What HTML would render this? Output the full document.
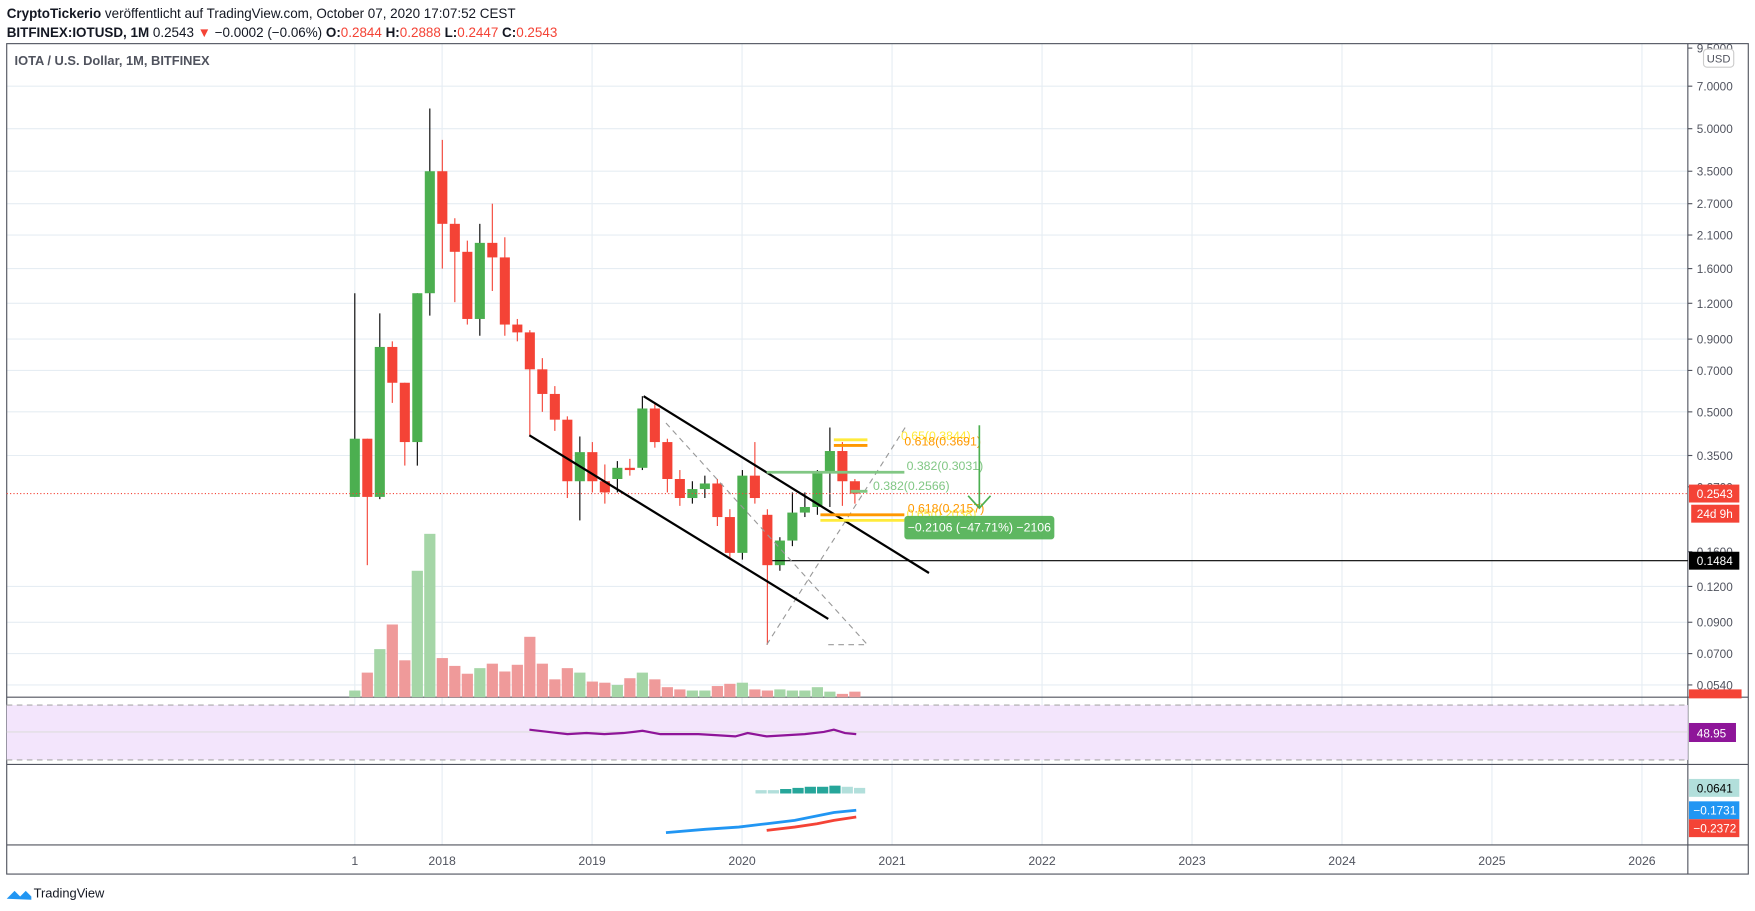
<!DOCTYPE html>
<html><head><meta charset="utf-8"><style>
html,body{margin:0;padding:0;background:#fff;width:1755px;height:911px;overflow:hidden}
svg{display:block;font-family:"Liberation Sans",sans-serif}
</style></head><body>
<svg id="s" width="1755" height="911" viewBox="0 0 1568 814" preserveAspectRatio="none" xmlns="http://www.w3.org/2000/svg">
<rect width="1568" height="814" fill="#fff"/>
<g id="grid" stroke="#e6edf3" stroke-width="1"></g>
<rect x="6" y="39" width="1556" height="742" fill="none" stroke="#50535e" stroke-width="1"/>
<line x1="1508" y1="39" x2="1508" y2="781" stroke="#50535e"/>
<line x1="6" y1="623" x2="1562" y2="623" stroke="#50535e"/>
<line x1="6" y1="683" x2="1562" y2="683" stroke="#50535e"/>
<line x1="6" y1="755" x2="1562" y2="755" stroke="#50535e"/>
<!-- RSI -->
<rect x="6" y="630" width="1502" height="49" fill="#f3e5fc"/>
<line x1="6" y1="630" x2="1508" y2="630" stroke="#aaa" stroke-dasharray="5,4"/>
<line x1="6" y1="679" x2="1508" y2="679" stroke="#aaa" stroke-dasharray="5,4"/>
<line x1="6" y1="654" x2="1508" y2="654" stroke="#ddd"/>
<polyline points="473,652 490,654 507,656 524,655 540,656 557,655 574,653 590,656 607,656 624,656 641,657 657,658 668,655 685,658 702,657 719,656 736,654 745,652 755,655 765,656" fill="none" stroke="#8e1599" stroke-width="2"/>
<g id="vol"></g>
<g id="cand"></g>
<!-- MACD -->
<g id="hist"></g>
<polyline points="595,744 630,741 660,739 685,736 710,733 730,729 745,726 765,724" fill="none" stroke="#2196f3" stroke-width="2.5"/>
<polyline points="685,742 710,739 730,736 745,733 765,730" fill="none" stroke="#f44336" stroke-width="2.5"/>
<!-- drawings -->
<line x1="6" y1="441" x2="1508" y2="441" stroke="#f44336" stroke-dasharray="1,2"/>
<line x1="690" y1="501" x2="1508" y2="501" stroke="#000"/>
<line x1="595" y1="378" x2="775" y2="576" stroke="#999" stroke-dasharray="5,4"/>
<line x1="685" y1="576" x2="810" y2="380" stroke="#999" stroke-dasharray="5,4"/>
<line x1="740" y1="576" x2="775" y2="576" stroke="#999" stroke-dasharray="5,4"/>
<line x1="575" y1="354" x2="830" y2="512" stroke="#000" stroke-width="2"/>
<line x1="473" y1="389" x2="740" y2="553" stroke="#000" stroke-width="2"/>
<line x1="745" y1="393" x2="775" y2="393" stroke="#ffeb3b" stroke-width="2.5"/>
<line x1="745" y1="398" x2="775" y2="398" stroke="#ff9800" stroke-width="2.5"/>
<line x1="685" y1="422" x2="808" y2="422" stroke="#81c784" stroke-width="2.5"/>
<line x1="760" y1="439" x2="775" y2="439" stroke="#81c784" stroke-width="2.5"/>
<line x1="733" y1="460" x2="808" y2="460" stroke="#ff9800" stroke-width="2.5"/>
<line x1="733" y1="465" x2="808" y2="465" stroke="#ffeb3b" stroke-width="2.5"/>
<g font-size="11">
<text x="805" y="393" fill="#ffeb3b">0.65(0.3844)</text>
<text x="808" y="398" fill="#ff9800">0.618(0.3691)</text>
<text x="810" y="420" fill="#81c784">0.382(0.3031)</text>
<text x="780" y="438" fill="#81c784">0.382(0.2566)</text>
<text x="810" y="463" fill="#ffeb3b">0.65(0.2038)</text>
<text x="811" y="458" fill="#ff9800">0.618(0.2157)</text>
</g>
<line x1="875" y1="380" x2="875" y2="454" stroke="#4caf50" stroke-width="1.5"/>
<polyline points="865,443 875,454 885,443" fill="none" stroke="#4caf50" stroke-width="1.5"/>
<rect x="808" y="461" width="134" height="21" rx="3" fill="#4caf50" opacity="0.9"/>
<text x="875" y="475" font-size="11" fill="#fff" text-anchor="middle">−0.2106 (−47.71%) −2106</text>
<!-- axis labels -->
<g id="pl" font-size="10.5" fill="#50535e"></g>
<rect x="1522" y="44" width="27" height="16" rx="3" fill="#fff" stroke="#ccc"/>
<text x="1535.5" y="56" font-size="10" fill="#50535e" text-anchor="middle">USD</text>
<rect x="1509" y="433" width="45" height="16" fill="#f44336"/><text x="1516" y="445" font-size="10.5" fill="#fff">0.2543</text>
<rect x="1511" y="451" width="43" height="16" fill="#f44336"/><text x="1516" y="463" font-size="10.5" fill="#fff">24d 9h</text>
<rect x="1509" y="493" width="45" height="16" fill="#000"/><text x="1516" y="505" font-size="10.5" fill="#fff">0.1484</text>
<rect x="1509" y="616" width="47" height="8" fill="#f44336"/>
<rect x="1509" y="646" width="42" height="17" fill="#8e1599"/><text x="1516" y="659" font-size="10.5" fill="#fff">48.95</text>
<rect x="1509" y="696" width="45" height="16" fill="#b2dfdb"/><text x="1516" y="708" font-size="10.5" fill="#000">0.0641</text>
<rect x="1509" y="716" width="45" height="16" fill="#2196f3"/><text x="1513" y="728" font-size="10.5" fill="#fff">−0.1731</text>
<rect x="1509" y="732" width="45" height="16" fill="#f44336"/><text x="1513" y="744" font-size="10.5" fill="#fff">−0.2372</text>
<g font-size="11" fill="#50535e" text-anchor="middle">
<text x="317" y="773">1</text><text x="395" y="773">2018</text><text x="529" y="773">2019</text><text x="663" y="773">2020</text><text x="797" y="773">2021</text><text x="931" y="773">2022</text><text x="1065" y="773">2023</text><text x="1199" y="773">2024</text><text x="1333" y="773">2025</text><text x="1467" y="773">2026</text>
</g>
<text x="6" y="16" font-size="12" fill="#131722"><tspan font-weight="bold">CryptoTickerio</tspan> veröffentlicht auf TradingView.com, October 07, 2020 17:07:52 CEST</text>
<text x="6" y="33" font-size="12" fill="#131722"><tspan font-weight="bold">BITFINEX:IOTUSD, 1M</tspan> 0.2543 <tspan fill="#f44336">▼</tspan> −0.0002 (−0.06%) <tspan font-weight="bold">O:</tspan><tspan fill="#f44336">0.2844</tspan> <tspan font-weight="bold">H:</tspan><tspan fill="#f44336">0.2888</tspan> <tspan font-weight="bold">L:</tspan><tspan fill="#f44336">0.2447</tspan> <tspan font-weight="bold">C:</tspan><tspan fill="#f44336">0.2543</tspan></text>
<text x="13" y="58" font-size="11.5" font-weight="bold" fill="#50535e">IOTA / U.S. Dollar, 1M, BITFINEX</text>
<path d="M6,803 l7,-7 l5,5 l5,-5 l5,5 v3 z" fill="#2196f3"/>
<text x="30" y="802" font-size="11.5" fill="#131722">TradingView</text>
</svg>
<script>
var NS="http://www.w3.org/2000/svg";
function el(p,t,a){var e=document.createElementNS(NS,t);for(var k in a)e.setAttribute(k,a[k]);document.getElementById(p).appendChild(e);return e;}
var ys=[[9.5,43],[7,77],[5,115],[3.5,153],[2.7,182],[2.1,210],[1.6,240],[1.2,271],[0.9,303],[0.7,331],[0.5,368],[0.35,407],[0.27,435],[0.16,493],[0.12,524],[0.09,556],[0.07,584],[0.054,612]];
ys.forEach(function(v){if(v[0]!=0.27&&v[0]!=0.16&&v[0]!=9.5)el("grid","line",{x1:6,x2:1508,y1:v[1],y2:v[1]});
 el("grid","line",{x1:1508,x2:1512,y1:v[1],y2:v[1],stroke:"#50535e"});
 var t=el("pl","text",{x:1516,y:v[1]+4});t.textContent=v[0].toFixed(4);});
[317,395,529,663,797,931,1065,1199,1333,1467].forEach(function(x){el("grid","line",{x1:x,x2:x,y1:39,y2:755});});
// candles: [o,c,h,l] in y
var C=[[444,392,262,444],[392,444,392,505],[444,310,280,446],[310,342,305,360],[342,395,342,416],[395,262,262,416],[262,153,97,282],[153,200,125,240],[200,225,195,270],[225,285,215,290],[285,217,200,300],[217,230,182,260],[230,290,212,300],[290,297,285,305],[297,330,295,390],[330,352,320,368],[352,375,345,385],[375,430,372,445],[430,404,390,465],[404,430,395,440],[430,440,415,450],[428,418,412,440],[418,420,410,425],[418,365,354,420],[365,395,360,400],[395,428,392,440],[428,445,420,452],[445,437,430,450],[437,432,425,445],[432,462,428,470],[462,494,455,500],[494,425,420,500],[425,445,395,450],[460,505,455,576],[505,483,480,510],[483,458,440,488],[458,453,440,462],[453,423,420,460],[423,403,382,453],[403,430,395,452],[430,441,428,450]];
var V=[617,601,580,558,590,510,477,588,595,602,597,593,600,594,569,593,607,597,601,609,610,612,606,601,607,614,616,617,617,613,611,610,616,617,616,617,617,614,618,620];
C.forEach(function(c,i){var x=317+11.17*i,up=c[1]<c[0],col=up?"#4caf50":"#f44336";
 el("cand","line",{x1:x,x2:x,y1:c[2],y2:c[3],stroke:up?"#000":col,"stroke-width":1});
 el("cand","rect",{x:x-4.5,y:Math.min(c[0],c[1]),width:9,height:Math.max(2,Math.abs(c[0]-c[1])),fill:col});
 var v=V[i]||618;el("vol","rect",{x:x-5,y:v,width:10,height:623-v,fill:up?"#a5d6a7":"#ef9a9a"});});
var H=[[680,706,"#b2dfdb"],[691,706,"#b2dfdb"],[702,705,"#26a69a"],[713,704,"#26a69a"],[724,703,"#26a69a"],[735,703,"#26a69a"],[746,702,"#26a69a"],[757,703,"#b2dfdb"],[768,704,"#b2dfdb"]];
H.forEach(function(h){el("hist","rect",{x:h[0]-5,y:h[1],width:10,height:709-h[1],fill:h[2]});});
</script>
</body></html>
